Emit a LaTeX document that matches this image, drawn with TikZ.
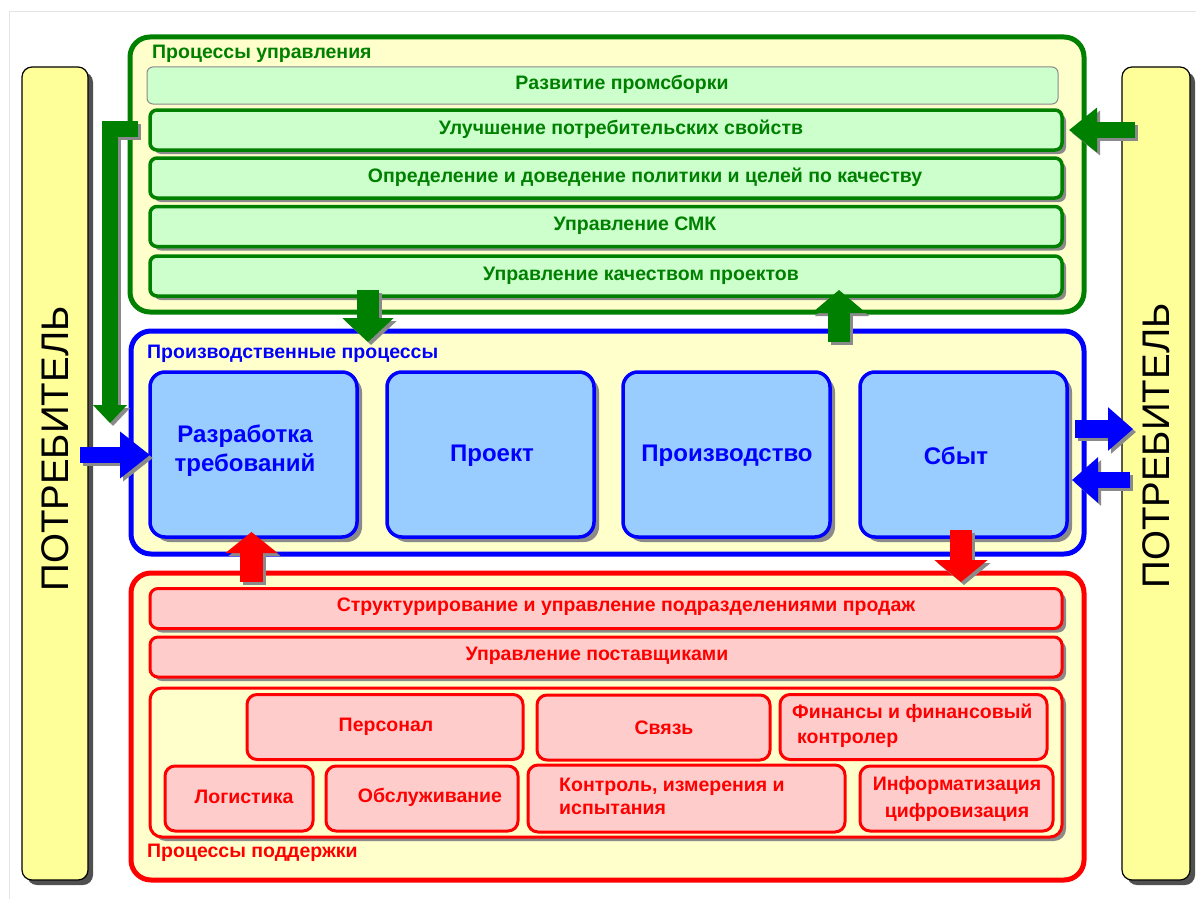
\documentclass[tikz,border=0pt]{standalone}
\usepackage{fontspec}
\setmainfont{Liberation Sans}
\usetikzlibrary{arrows.meta,shadows}

\definecolor{dgreen}{HTML}{008000}
\definecolor{palegreen}{HTML}{CCFFCC}
\definecolor{paleyellow}{HTML}{FFFFCC}
\definecolor{baryellow}{HTML}{FFFF99}
\definecolor{skyblue}{HTML}{99CCFF}
\definecolor{pinkfill}{HTML}{FFCCCC}
\definecolor{shade}{HTML}{8A8A8A}
\definecolor{darkshade}{HTML}{505050}
\definecolor{framegray}{HTML}{E4E4E4}

% block arrow with a grey drop shadow: colour, style, path
\newcommand\fatarrow[3]{%
  \draw[#2, draw=shade, transform canvas={shift={(3pt,-3pt)}}] #3;
  \draw[#2, draw=#1] #3;}

\tikzset{
  blockarrow/.style n args={3}{line width=#1, line join=miter, -{Triangle[width=#2,length=#3]}},
  boxshadow/.style={drop shadow={shadow xshift=4pt, shadow yshift=-4pt, fill=shade, opacity=1}},
  consumerbar/.style={draw=black, line width=1.2pt, fill=baryellow, rounded corners=10pt,
    minimum width=66pt, minimum height=813pt, inner sep=0pt,
    drop shadow={shadow xshift=5pt, shadow yshift=-5pt, fill=darkshade, opacity=1}},
  consumertext/.style={rotate=90, font=\fontsize{38.5}{40}\selectfont, inner sep=0pt},
  outerbox/.style={line width=5pt, fill=paleyellow, rounded corners=20pt, inner sep=0pt},
  grouptitle/.style={anchor=west, inner sep=0pt, font=\fontsize{19.5}{22}\selectfont\bfseries},
  mgmtrow/.style={draw=dgreen, line width=3.5pt, fill=palegreen, rounded corners=7pt,
    minimum width=912pt, minimum height=40pt, inner sep=0pt, boxshadow},
  mgmttext/.style={text=dgreen, inner sep=0pt, font=\fontsize{19.5}{22}\selectfont\bfseries},
  prodbox/.style={draw=blue, line width=3.5pt, fill=skyblue, rounded corners=15pt,
    minimum width=207pt, minimum height=165pt, inner sep=0pt,
    drop shadow={shadow xshift=5pt, shadow yshift=-5pt, fill=shade, opacity=1}},
  prodtext/.style={text=blue, inner sep=0pt, align=center, font=\fontsize{24}{29}\selectfont\bfseries},
  supprow/.style={draw=red, line width=3pt, fill=pinkfill, rounded corners=8pt,
    minimum width=912pt, minimum height=40pt, inner sep=0pt, boxshadow},
  suppsmall/.style={draw=red, line width=3pt, fill=pinkfill, rounded corners=10pt,
    minimum height=65pt, inner sep=0pt},
  supptext/.style={text=red, inner sep=0pt, font=\fontsize{19.5}{23}\selectfont\bfseries},
}

\begin{document}
\begin{tikzpicture}[x=1pt, y=-1pt]
\useasboundingbox (0,0) rectangle (1196,899);
\fill[white] (0,0) rectangle (1196,899);
\draw[framegray, line width=1pt] (9,899) -- (9,12) -- (1196,12);

% consumer bars
\node[consumerbar] (leftbar) at (55,473.5) {};
\node[consumerbar, minimum width=68pt] (rightbar) at (1156,473.5) {};
\node[consumertext] (lefttext) at (55,449) {ПОТРЕБИТЕЛЬ};
\node[consumertext] (righttext) at (1156,446) {ПОТРЕБИТЕЛЬ};

% management processes
\node[outerbox, draw=dgreen, minimum width=954pt, minimum height=275pt] (mgmt) at (607,174.5) {};
\node[grouptitle, text=dgreen] (mgmttitle) at (152,54) {Процессы управления};
\node[draw=shade, line width=1pt, fill=palegreen, rounded corners=6pt,
      minimum width=911pt, minimum height=37pt, inner sep=0pt] (g1) at (602.5,85.5) {};
\node[mgmtrow] (g2) at (606,130) {};
\node[mgmtrow] (g3) at (606,178) {};
\node[mgmtrow] (g4) at (606,226.5) {};
\node[mgmtrow] (g5) at (606,276) {};
\node[mgmttext] (g1t) at (622,84) {Развитие промсборки};
\node[mgmttext] (g2t) at (621,129) {Улучшение потребительских свойств};
\node[mgmttext] (g3t) at (645,177) {Определение и доведение политики и целей по качеству};
\node[mgmttext] (g4t) at (635,226) {Управление СМК};
\node[mgmttext] (g5t) at (641,276) {Управление качеством проектов};

% production processes
\node[outerbox, draw=blue, minimum width=953pt, minimum height=223pt] (prod) at (607.5,442.5) {};
\node[grouptitle, text=blue] (prodtitle) at (147,354) {Производственные процессы};
\node[prodbox] (b1) at (253.5,454.5) {};
\node[prodbox] (b2) at (490.5,454.5) {};
\node[prodbox] (b3) at (726.5,454.5) {};
\node[prodbox] (b4) at (963.5,454.5) {};
\node[prodtext] (b1t) at (245,451) {Разработка\\требований};
\node[prodtext] (b2t) at (492,456) {Проект};
\node[prodtext] (b3t) at (727,456) {Производство};
\node[prodtext] (b4t) at (956,456) {Сбыт};

% support processes
\node[outerbox, draw=red, minimum width=953pt, minimum height=307pt] (supp) at (607.5,726.5) {};
\node[grouptitle, text=red] (supptitle) at (147,853) {Процессы поддержки};
\node[supprow] (s1) at (606,608.5) {};
\node[supprow] (s2) at (606,657) {};
\node[supprow, fill=paleyellow, minimum height=149pt, rounded corners=12pt] (s3) at (606,762.5) {};
\node[supptext] (s1t) at (626,607) {Структурирование и управление подразделениями продаж};
\node[supptext] (s2t) at (597,656) {Управление поставщиками};

\node[suppsmall, minimum width=276pt] (pers) at (385,727) {};
\node[suppsmall, minimum width=233pt] (svyaz) at (653.5,727.5) {};
\node[suppsmall, minimum width=267pt] (fin) at (913.5,727) {};
\node[suppsmall, minimum width=148pt] (logi) at (239,798.5) {};
\node[suppsmall, minimum width=192pt] (obsl) at (422,798.5) {};
\node[suppsmall, minimum width=317pt, minimum height=67pt] (kontr) at (686.5,798.5) {};
\node[suppsmall, minimum width=193pt] (inf) at (956.5,798.5) {};

\node[supptext] (perst) at (386,727) {Персонал};
\node[supptext] (svyazt) at (664,728) {Связь};
\node[supptext, anchor=west, align=left, font=\fontsize{19.5}{25}\selectfont\bfseries] (fint) at (792,725.5)
  {Финансы и финансовый\\\hspace*{5pt}контролер};
\node[supptext] (logit) at (244,797) {Логистика};
\node[supptext] (obslt) at (430,797) {Обслуживание};
\node[supptext, anchor=west, align=left] (kontrt) at (559,796.5) {Контроль, измерения и\\испытания};
\node[supptext, align=center, font=\fontsize{19.5}{27}\selectfont\bfseries] (inft) at (957,798.5)
  {Информатизация\\цифровизация};

% arrow end points
\coordinate (gLa) at (138,128.5);
\coordinate (gLb) at (110,423);
\coordinate (gRa) at (1135,130);
\coordinate (gRb) at (1069,130);
\coordinate (gDa) at (368,290);
\coordinate (gDb) at (368,342);
\coordinate (gUa) at (839,342);
\coordinate (gUb) at (839,290);
\coordinate (bLa) at (80,455);
\coordinate (bLb) at (150,455);
\coordinate (bOa) at (1075,429);
\coordinate (bOb) at (1133,429);
\coordinate (bIa) at (1130,480);
\coordinate (bIb) at (1072,480);
\coordinate (rUa) at (251.5,582);
\coordinate (rUb) at (251.5,532);
\coordinate (rDa) at (961,530);
\coordinate (rDb) at (961,582);

% arrows
\fatarrow{dgreen}{blockarrow={16pt}{33pt}{18pt}}{(gLa) -| (gLb)}
\fatarrow{dgreen}{blockarrow={16pt}{43pt}{28pt}}{(gRa) -- (gRb)}
\fatarrow{dgreen}{blockarrow={22pt}{50pt}{24pt}}{(gDa) -- (gDb)}
\fatarrow{dgreen}{blockarrow={22pt}{53pt}{23pt}}{(gUa) -- (gUb)}
\fatarrow{blue}{blockarrow={16pt}{45pt}{30pt}}{(bLa) -- (bLb)}
\fatarrow{blue}{blockarrow={18pt}{42pt}{25pt}}{(bOa) -- (bOb)}
\fatarrow{blue}{blockarrow={16pt}{44pt}{26pt}}{(bIa) -- (bIb)}
\fatarrow{red}{blockarrow={23pt}{51pt}{21pt}}{(rUa) -- (rUb)}
\fatarrow{red}{blockarrow={22pt}{52pt}{22pt}}{(rDa) -- (rDb)}
\end{tikzpicture}
\end{document}
